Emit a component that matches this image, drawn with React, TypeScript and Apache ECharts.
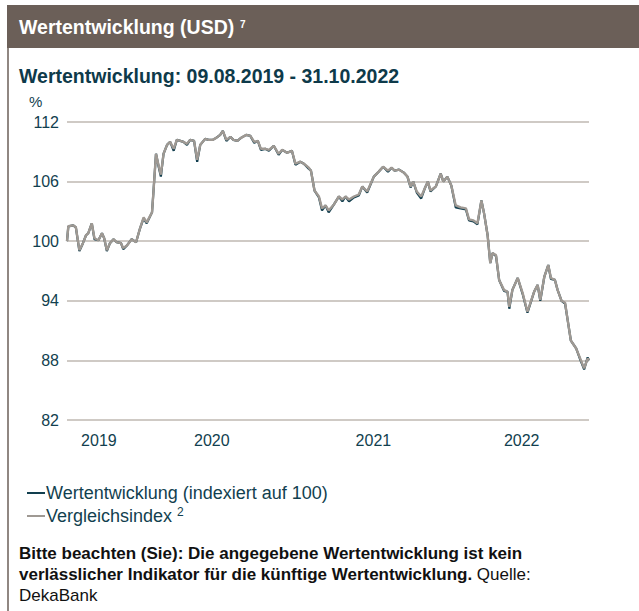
import React, { useEffect, useRef } from "react";
import * as echarts from "echarts";

const dates: string[] = ["2019-08-09","2019-08-12","2019-08-23","2019-08-29","2019-09-06","2019-09-14","2019-09-21","2019-09-26","2019-10-04","2019-10-10","2019-10-19","2019-10-27","2019-11-01","2019-11-07","2019-11-14","2019-11-22","2019-11-29","2019-12-09","2019-12-14","2019-12-23","2020-01-02","2020-01-12","2020-01-21","2020-01-29","2020-02-05","2020-02-17","2020-02-20","2020-02-26","2020-03-03","2020-03-08","2020-03-14","2020-03-22","2020-03-29","2020-04-06","2020-04-13","2020-04-21","2020-04-28","2020-05-06","2020-05-13","2020-05-22","2020-05-29","2020-06-05","2020-06-16","2020-06-24","2020-07-03","2020-07-11","2020-07-20","2020-07-26","2020-08-03","2020-08-12","2020-08-19","2020-08-28","2020-09-05","2020-09-17","2020-09-26","2020-10-05","2020-10-13","2020-10-20","2020-10-30","2020-11-07","2020-11-18","2020-11-29","2020-12-07","2020-12-18","2020-12-29","2021-01-06","2021-01-17","2021-01-25","2021-02-05","2021-02-10","2021-02-18","2021-02-28","2021-03-07","2021-03-15","2021-03-22","2021-04-03","2021-04-14","2021-04-22","2021-04-29","2021-05-07","2021-05-18","2021-05-29","2021-06-06","2021-06-17","2021-07-02","2021-07-13","2021-07-23","2021-08-03","2021-08-11","2021-08-18","2021-08-28","2021-09-08","2021-09-16","2021-09-23","2021-09-29","2021-10-07","2021-10-17","2021-10-25","2021-11-01","2021-11-07","2021-11-19","2021-11-30","2021-12-06","2021-12-15","2021-12-24","2022-01-03","2022-01-14","2022-01-26","2022-02-02","2022-02-12","2022-02-21","2022-03-02","2022-03-08","2022-03-16","2022-03-22","2022-03-27","2022-04-04","2022-04-11","2022-04-22","2022-04-30","2022-05-04","2022-05-11","2022-05-23","2022-06-03","2022-06-14","2022-06-29","2022-07-07","2022-07-13","2022-07-22","2022-07-31","2022-08-06","2022-08-15","2022-08-21","2022-08-30","2022-09-07","2022-09-13","2022-09-20","2022-10-02","2022-10-11","2022-10-20","2022-10-28","2022-10-31"];

const indexValues: number[] = [100.0,101.5,101.6,101.4,99.1,99.8,100.6,100.8,101.8,100.3,100.1,100.8,100.3,99.1,99.8,100.2,99.9,99.8,99.3,99.6,100.2,99.9,101.3,102.4,101.9,102.9,104.8,108.8,107.6,106.7,108.8,109.7,110.0,109.3,110.2,110.1,110.0,109.8,110.2,110.1,108.2,109.7,110.3,110.2,110.2,110.4,110.7,111.1,110.2,110.5,110.2,110.1,110.4,110.7,110.6,110.0,110.1,109.3,109.3,109.2,109.6,108.8,109.2,108.9,109.1,107.8,108.0,107.8,107.4,107.1,105.1,104.5,103.3,103.6,103.1,103.7,104.5,104.2,104.5,104.2,104.5,104.7,105.5,105.0,106.5,107.0,107.5,107.1,107.4,107.1,107.2,106.9,106.5,105.5,106.0,105.0,104.5,105.3,106.0,105.1,105.5,106.8,106.0,106.5,105.6,103.6,103.4,103.3,102.2,102.1,101.8,104.1,102.8,100.6,97.8,98.8,98.6,96.1,95.1,94.9,93.4,95.1,96.3,94.8,92.9,94.9,95.6,94.1,96.4,97.6,96.3,96.1,95.1,94.0,93.8,92.0,90.0,89.2,88.2,87.2,88.2,88.0];

const fundValues: number[] = [100.0,101.5,101.6,101.4,99.0,99.8,100.6,100.8,101.8,100.2,100.1,100.8,100.3,99.0,99.8,100.2,99.9,99.8,99.2,99.6,100.2,99.9,101.3,102.3,101.8,102.9,104.8,108.8,107.5,106.5,108.8,109.7,110.0,109.1,110.2,110.1,110.0,109.7,110.2,110.1,108.0,109.7,110.3,110.2,110.2,110.4,110.7,111.1,110.1,110.5,110.2,110.1,110.4,110.7,110.6,109.9,110.1,109.2,109.3,109.1,109.6,108.7,109.2,108.9,109.1,107.7,108.0,107.8,107.3,107.1,105.1,104.4,103.1,103.6,102.9,103.7,104.5,104.0,104.5,104.0,104.4,104.6,105.5,104.9,106.5,107.0,107.5,107.0,107.4,107.1,107.2,106.9,106.5,105.4,106.0,104.9,104.3,105.3,106.0,105.0,105.5,106.8,106.0,106.5,105.6,103.4,103.3,103.2,102.1,102.0,101.7,104.1,102.8,100.6,97.8,98.8,98.5,96.1,95.0,94.9,93.2,95.1,96.3,94.7,92.8,94.9,95.6,94.0,96.4,97.6,96.2,96.1,95.1,94.0,93.7,92.0,90.0,89.2,88.1,87.1,88.3,88.0];

const yTicks: number[] = [82, 88, 94, 100, 106, 112];
const xLabelYears: string[] = ["2019", "2020", "2021", "2022"];
const xLabelDates: string[] = ["2019-10-20", "2020-07-01", "2021-07-01", "2022-06-01"];

const FUND_NAME = "Wertentwicklung (indexiert auf 100)";
const INDEX_NAME = "Vergleichsindex";
const TEAL = "#123f4f";
const FONT = "'Liberation Sans', Arial, sans-serif";

const ts = (d: string) => new Date(d + "T00:00:00Z").getTime();

export default function App() {
  const ref = useRef<HTMLDivElement>(null);
  useEffect(() => {
    if (!ref.current) return;
    const chart = echarts.init(ref.current, undefined, { renderer: "svg" });
    const labelTs = xLabelDates.map(ts);
    const fundData = dates.map((d, i) => [ts(d), fundValues[i]]);
    const indexData = dates.map((d, i) => [ts(d), indexValues[i]]);
    chart.setOption({
      animation: false,
      backgroundColor: "#ffffff",
      textStyle: { fontFamily: FONT },
      grid: { left: 67, right: 50, top: 122, bottom: 191, containLabel: false },
      xAxis: {
        type: "value",
        min: ts(dates[0]),
        max: ts(dates[dates.length - 1]),
        axisLine: { show: false },
        axisTick: { show: false },
        splitLine: { show: false },
        axisLabel: {
          customValues: labelTs,
          color: TEAL,
          fontSize: 16,
          fontFamily: FONT,
          margin: 12,
          hideOverlap: false,
          formatter: (v: number) => {
            const idx = labelTs.findIndex((t) => Math.abs(t - v) < 86400000 * 2);
            return idx >= 0 ? xLabelYears[idx] : "";
          },
        },
      },
      yAxis: {
        type: "value",
        min: yTicks[0],
        max: yTicks[yTicks.length - 1],
        interval: 6,
        axisLine: { show: false },
        axisTick: { show: false },
        axisLabel: { color: TEAL, fontSize: 16, fontFamily: FONT, margin: 8 },
        splitLine: { lineStyle: { color: "#cfcac5", width: 2 } },
      },
      legend: {
        orient: "vertical",
        left: 22,
        top: 479,
        itemWidth: 18,
        itemHeight: 2,
        itemGap: 4,
        icon: "rect",
        data: [FUND_NAME, INDEX_NAME],
        formatter: (name: string) => (name === INDEX_NAME ? name + " {s|2}" : name),
        textStyle: {
          color: TEAL,
          fontSize: 18,
          fontFamily: FONT,
          padding: [0, 0, 0, -4],
          rich: { s: { fontSize: 12, color: TEAL, fontFamily: FONT, padding: [0, 0, 8, 0] } },
        },
      },
      series: [
        {
          name: FUND_NAME,
          type: "line",
          data: fundData,
          showSymbol: false,
          symbol: "none",
          color: TEAL,
          lineStyle: { color: TEAL, width: 2.2 },
          z: 2,
        },
        {
          name: INDEX_NAME,
          type: "line",
          data: indexData,
          showSymbol: false,
          symbol: "none",
          color: "#9f9993",
          lineStyle: { color: "#9f9993", width: 2.4 },
          z: 3,
        },
      ],
      graphic: [
        { type: "rect", shape: { x: 7, y: 5, width: 632, height: 43 }, style: { fill: "#6b5f58" }, silent: true },
        { type: "line", shape: { x1: 8, y1: 48, x2: 8, y2: 611 }, style: { stroke: "#6b5f58", lineWidth: 1.5 }, silent: true },
        { type: "text", x: 19, y: 27, style: { text: "Wertentwicklung (USD)", fill: "#ffffff", font: `bold 19.5px ${FONT}`, textVerticalAlign: "middle" } },
        { type: "text", x: 240, y: 24, style: { text: "7", fill: "#ffffff", font: `bold 10px ${FONT}`, textVerticalAlign: "middle" } },
        { type: "text", x: 19, y: 76, style: { text: "Wertentwicklung: 09.08.2019 - 31.10.2022", fill: "#0e3a4a", font: `bold 19.5px ${FONT}`, textVerticalAlign: "middle" } },
        { type: "text", x: 29, y: 101, style: { text: "%", fill: TEAL, font: `15px ${FONT}`, textVerticalAlign: "middle" } },
        {
          type: "text",
          x: 19,
          y: 543,
          style: {
            text: "{b|Bitte beachten (Sie): Die angegebene Wertentwicklung ist kein}\n{b|verlässlicher Indikator für die künftige Wertentwicklung.}{n| Quelle:}\n{n|DekaBank}",
            fill: "#111111",
            font: `17px ${FONT}`,
            lineHeight: 21,
            rich: {
              b: { fontWeight: "bold", fontSize: 17, fontFamily: FONT, fill: "#111111", lineHeight: 21 },
              n: { fontSize: 17, fontFamily: FONT, fill: "#111111", lineHeight: 21 },
            },
          },
        },
      ],
    });
    return () => chart.dispose();
  }, []);
  return <div ref={ref} style={{ position: "absolute", left: 0, top: 0, width: 639, height: 611 }} />;
}
